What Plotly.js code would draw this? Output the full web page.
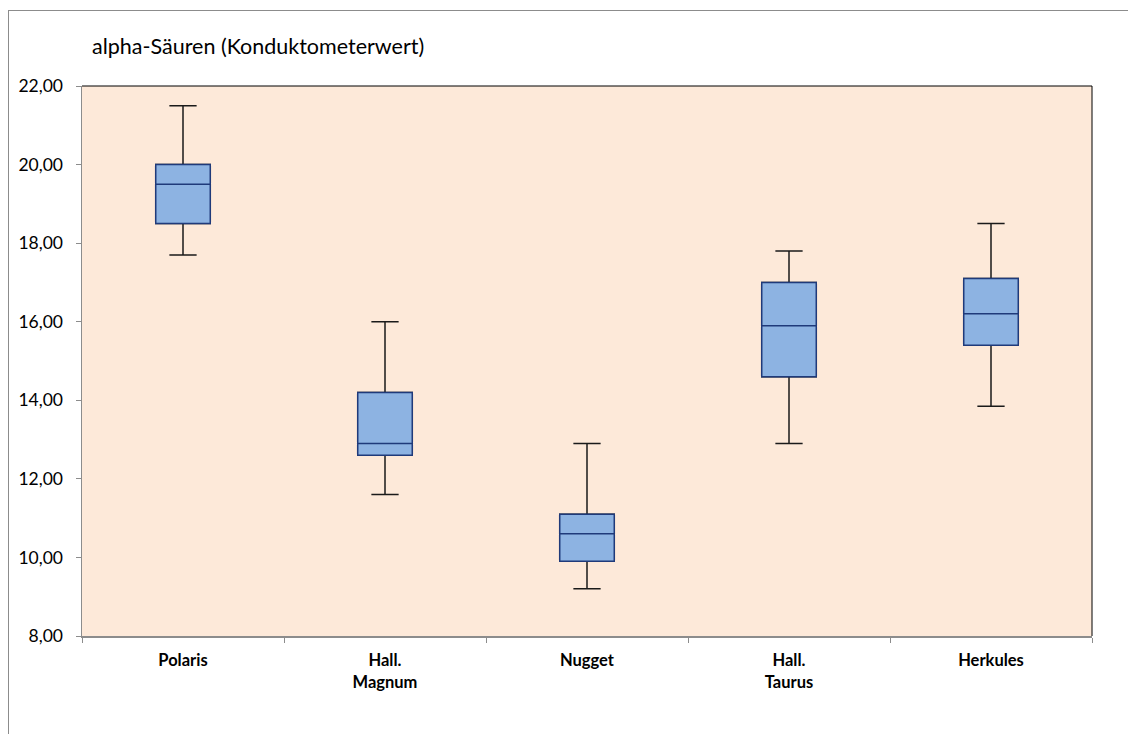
<!DOCTYPE html>
<html>
<head>
<meta charset="utf-8">
<script src="https://cdn.plot.ly/plotly-3.0.1.min.js"></script>
<style>
html,body{margin:0;padding:0;background:#fff;}
#wrap{position:relative;width:1128px;height:734px;overflow:hidden;}
#chart{position:absolute;left:0;top:0;width:1128px;height:734px;}
#frame{position:absolute;left:8px;top:10px;width:1130px;height:740px;border:1px solid #8c8c8c;pointer-events:none;}
</style>
</head>
<body>
<div id="wrap"><div id="chart"></div><div id="frame"></div></div>
<script>
const categories = ["Polaris", "Hall.<br>Magnum", "Nugget", "Hall.<br>Taurus", "Herkules"];
const lowerWhisker = [17.7, 11.6, 9.2, 12.9, 13.85];
const q1Values     = [18.5, 12.6, 9.9, 14.6, 15.4];
const medianValues = [19.5, 12.9, 10.6, 15.9, 16.2];
const q3Values     = [20.0, 14.2, 11.1, 17.0, 17.1];
const upperWhisker = [21.5, 16.0, 12.9, 17.8, 18.5];
const yTicks = [8, 10, 12, 14, 16, 18, 20, 22];

const whiskerTrace = {
  type: "box",
  x: categories,
  q1: q1Values, median: medianValues, q3: q3Values,
  lowerfence: lowerWhisker, upperfence: upperWhisker,
  width: 0.27, whiskerwidth: 0.5,
  fillcolor: "#8DB3E2",
  line: {color: "#1a1a1a", width: 1.5},
  hoverinfo: "skip", showlegend: false
};
const boxTrace = {
  type: "box",
  x: categories,
  q1: q1Values, median: medianValues, q3: q3Values,
  lowerfence: q1Values, upperfence: q3Values,
  width: 0.27, whiskerwidth: 0,
  fillcolor: "#8DB3E2",
  line: {color: "#1F3A7A", width: 1.5},
  showlegend: false
};

const layout = {
  width: 1128, height: 734,
  margin: {l: 82, r: 36, t: 86, b: 98, pad: 0},
  paper_bgcolor: "#ffffff",
  plot_bgcolor: "#FDE9D9",
  separators: ",.",
  boxmode: "overlay",
  font: {family: "Lato, 'Open Sans', sans-serif", color: "#000"},
  title: {
    text: "alpha-Säuren (Konduktometerwert)",
    x: 92/1128, xanchor: "left", xref: "container",
    y: 1 - 46/734, yanchor: "middle", yref: "container",
    font: {size: 21.5, color: "#000", family: "Lato, 'Open Sans', sans-serif"}
  },
  xaxis: {
    type: "category",
    tickson: "boundaries",
    ticks: "outside", ticklen: 5, tickcolor: "#8c8c8c",
    ticklabelstandoff: 9,
    showline: true, linecolor: "#8c8c8c", linewidth: 1.5,
    showgrid: false, zeroline: false,
    tickfont: {size: 16.5, family: "Lato, 'Open Sans', sans-serif", weight: "bold", color: "#000"},
    range: [-0.5, 4.5]
  },
  yaxis: {
    range: [8, 22],
    tickvals: yTicks,
    tickformat: ".2f",
    ticks: "outside", ticklen: 5, tickcolor: "#8c8c8c",
    ticklabelstandoff: 9,
    showline: true, linecolor: "#8c8c8c", linewidth: 1.5,
    showgrid: false, zeroline: false,
    tickfont: {size: 17.5, color: "#000"}
  },
  shapes: [
    {type: "line", xref: "paper", yref: "paper", x0: 0, x1: 1, y0: 1, y1: 1, line: {color: "#000", width: 1}},
    {type: "line", xref: "paper", yref: "paper", x0: 1, x1: 1, y0: 0, y1: 1, line: {color: "#000", width: 1}}
  ]
};

Plotly.newPlot("chart", [whiskerTrace, boxTrace], layout, {staticPlot: true, displayModeBar: false});
</script>
</body>
</html>
